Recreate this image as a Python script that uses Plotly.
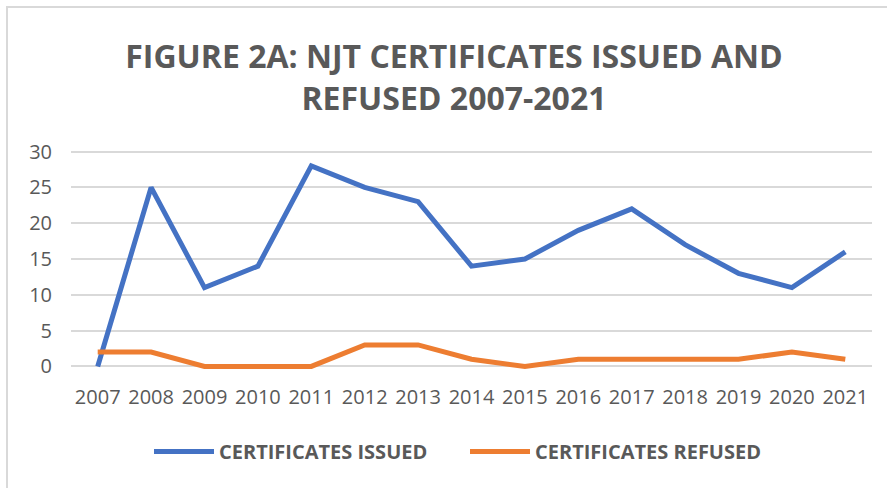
import plotly.graph_objects as go

years = ["2007", "2008", "2009", "2010", "2011", "2012", "2013", "2014",
         "2015", "2016", "2017", "2018", "2019", "2020", "2021"]
issued = [0, 25, 11, 14, 28, 25, 23, 14, 15, 19, 22, 17, 13, 11, 16]
refused = [2, 2, 0, 0, 0, 3, 3, 1, 0, 1, 1, 1, 1, 2, 1]
y_ticks = [0, 5, 10, 15, 20, 25, 30]

TEXT = "#595959"
GRID = "#d9d9d9"

fig = go.Figure()
fig.add_trace(go.Scatter(x=years, y=issued, mode="lines", name="CERTIFICATES ISSUED",
                         line=dict(color="#4472C4", width=5, shape="linear")))
fig.add_trace(go.Scatter(x=years, y=refused, mode="lines", name="CERTIFICATES REFUSED",
                         line=dict(color="#ED7D31", width=5, shape="linear")))

W, H = 887, 488
ml, mr, mt, mb = 71, 15, 148, 118
pw, ph = W - ml - mr, H - mt - mb

def px_x(x):
    return (x - ml) / pw

def px_y(y):
    return (H - mb - y) / ph

fig.update_layout(
    width=W, height=H,
    margin=dict(l=ml, r=mr, t=mt, b=mb),
    paper_bgcolor="white", plot_bgcolor="white",
    title=dict(text="FIGURE 2A: NJT CERTIFICATES ISSUED AND<br>REFUSED 2007-2021",
               x=454 / W, xanchor="center", xref="container",
               y=1 - 68 / H, yanchor="middle", yref="container",
               font=dict(family="Open Sans", size=32, color=TEXT, weight="bold")),
    xaxis=dict(type="category", showgrid=False, zeroline=False, showline=False,
               tickfont=dict(family="Open Sans", size=20, color=TEXT),
               ticks="", ticklabelstandoff=13, range=[-0.5, 14.5]),
    yaxis=dict(range=[-0.5, 30.5], tickvals=y_ticks, showgrid=True, gridcolor=GRID,
               gridwidth=2, zeroline=False, showline=False,
               tickfont=dict(family="Open Sans", size=20, color=TEXT),
               ticks="", ticklabelstandoff=18),
    legend=dict(orientation="h", x=px_x(149), xanchor="left",
                y=px_y(451.5), yanchor="middle",
                font=dict(family="Open Sans", size=20, color=TEXT, weight="bold"),
                itemwidth=60, traceorder="normal", entrywidthmode="pixels", entrywidth=241),
    showlegend=True,
)

fig.add_shape(type="line", xref="paper", yref="paper",
              x0=px_x(6), x1=px_x(W + 5), y0=px_y(7), y1=px_y(7),
              line=dict(color=GRID, width=2))
fig.add_shape(type="line", xref="paper", yref="paper",
              x0=px_x(7), x1=px_x(7), y0=px_y(6), y1=px_y(H + 5),
              line=dict(color=GRID, width=2))

fig.write_html("out.html", config={"displayModeBar": False},
               post_script="document.body.style.margin='0px';")
